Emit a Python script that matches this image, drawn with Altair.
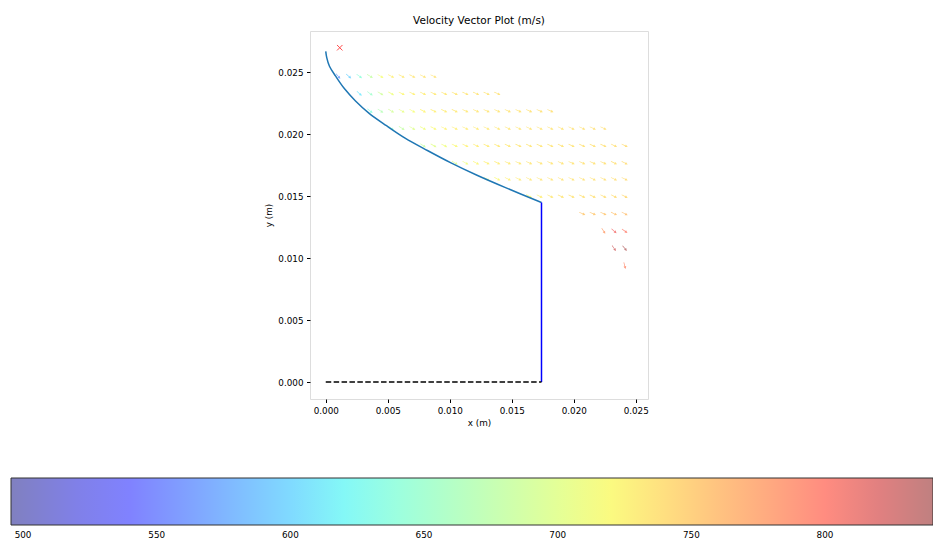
import altair as alt
import pandas as pd
import numpy as np

# ---------------- data ----------------
curve_x = [0.0000, 0.00008, 0.0003, 0.0008, 0.0015, 0.0024, 0.0035, 0.0049, 0.0064,
           0.0082, 0.0101, 0.0122, 0.0145, 0.0174]
curve_y = [0.0267, 0.0262, 0.0255, 0.0247, 0.0237, 0.0227, 0.0217, 0.0207, 0.0197,
           0.0187, 0.0177, 0.0167, 0.0157, 0.0145]

wall_x = [0.0174]
wall_top = [0.0145]
wall_bottom = [0.0]
base_x0 = [0.0]
base_x1 = [0.0174]
base_y = [0.0]

marker_x = [0.00113]
marker_y = [0.0270]

col_x = [0.00100, 0.00185, 0.00271, 0.00357, 0.00442, 0.00528, 0.00613, 0.00699,
         0.00785, 0.00870, 0.00956, 0.01041, 0.01127, 0.01213, 0.01298, 0.01384,
         0.01469, 0.01555, 0.01641, 0.01726, 0.01812, 0.01897, 0.01983, 0.02069,
         0.02154, 0.02240, 0.02325, 0.02411]
row_y = [0.0247, 0.0233, 0.0219, 0.0205, 0.0191, 0.0177, 0.0164, 0.0150,
         0.0136, 0.0122, 0.0108, 0.0094]
row_first_col = [0, 2, 3, 5, 8, 11, 14, 18, 23, 25, 26, 27]
row_speed = [
    [565, 598, 640, 680, 716, 727, 731, 733, 734, 735],
    [612, 652, 688, 710, 721, 726, 729, 731, 732, 733, 734, 735, 735, 736],
    [636, 668, 690, 705, 716, 723, 727, 729, 731, 732, 733, 734, 734, 735, 735, 736, 736, 737],
    [652, 680, 699, 711, 719, 724, 727, 729, 730, 731, 732, 733, 733, 734, 734, 735, 735, 736, 736, 737, 737],
    [682, 700, 712, 720, 725, 728, 730, 731, 732, 733, 733, 734, 734, 735, 735, 736, 736, 737, 738, 739],
    [696, 712, 721, 726, 729, 731, 732, 733, 734, 734, 735, 735, 736, 736, 737, 738, 740],
    [706, 720, 727, 730, 732, 733, 734, 735, 735, 736, 736, 737, 738, 740],
    [718, 728, 732, 734, 735, 736, 737, 738, 739, 742],
    [752, 752, 753, 755, 758],
    [778, 808, 798],
    [825, 838],
    [790],
]
row_angle = [
    [50, 42, 36, 32, 30, 28, 27, 27, 26, 26],
    [42, 36, 32, 30, 28, 27, 27, 26, 26, 26, 25, 25, 25, 25],
    [38, 34, 31, 29, 28, 27, 26, 26, 26, 25, 25, 25, 25, 25, 25, 25, 25, 25],
    [36, 32, 30, 28, 27, 26, 26, 25, 25, 25, 25, 25, 25, 25, 25, 25, 25, 25, 25, 26, 26],
    [33, 30, 28, 27, 26, 26, 25, 25, 25, 25, 25, 25, 25, 25, 25, 25, 25, 25, 26, 26],
    [31, 28, 27, 26, 26, 25, 25, 25, 25, 25, 25, 25, 25, 25, 25, 26, 27],
    [30, 28, 27, 26, 25, 25, 25, 25, 25, 25, 25, 26, 26, 27],
    [29, 27, 26, 25, 25, 25, 25, 26, 27, 28],
    [24, 24, 25, 26, 28],
    [58, 42, 35],
    [55, 50],
    [75],
]

speed_min = 495.5
speed_max = 840.4
colorbar_ticks = [500, 550, 600, 650, 700, 750, 800]
axis_ticks = [0.0, 0.005, 0.010, 0.015, 0.020, 0.025]

# ---------------- tables ----------------
rows = []
for y, first, sp, an in zip(row_y, row_first_col, row_speed, row_angle):
    for k, (s, a) in enumerate(zip(sp, an)):
        rows.append({"x": col_x[first + k], "y": y, "speed": s, "angle": a})
vec_df = pd.DataFrame(rows)

curve_df = pd.DataFrame({"x": curve_x, "y": curve_y, "order": list(range(len(curve_x)))})
wall_df = pd.DataFrame({"x": wall_x, "y": wall_top, "y2": wall_bottom})
base_df = pd.DataFrame({"x": base_x0, "x2": base_x1, "y": base_y})
marker_df = pd.DataFrame({"x": marker_x, "y": marker_y})

# jet colormap, blended 50% with white (alpha 0.5)
jet_r = ([0, 0.35, 0.66, 0.89, 1], [0, 0, 1, 1, 0.5])
jet_g = ([0, 0.125, 0.375, 0.64, 0.91, 1], [0, 0, 1, 1, 0, 0])
jet_b = ([0, 0.11, 0.34, 0.65, 1], [0.5, 1, 1, 0, 0])
stops = [0, 0.11, 0.125, 0.34, 0.35, 0.375, 0.64, 0.65, 0.66, 0.89, 0.91, 1]


def jet_hex(f):
    r = np.interp(f, *jet_r)
    g = np.interp(f, *jet_g)
    b = np.interp(f, *jet_b)
    c = [0.5 * v + 0.5 for v in (r, g, b)]
    return "#%02x%02x%02x" % tuple(int(round(v * 255)) for v in c)


color_domain = [speed_min + f * (speed_max - speed_min) for f in stops]
color_range = [jet_hex(f) for f in stops]

FONT = "DejaVu Sans"
xscale = alt.Scale(domain=[-0.00127, 0.02599], nice=False, zero=False)
yscale = alt.Scale(domain=[-0.00137, 0.02835], nice=False, zero=False)


def ax(title):
    return alt.Axis(title=title, values=axis_ticks, format=".3f", grid=False,
                    tickSize=3.5, tickColor="black", domain=False,
                    labelFontSize=8.8, labelFont=FONT, labelColor="black",
                    titleFont=FONT, titleFontSize=8.8, titleFontWeight="normal",
                    titleColor="black", labelPadding=3.5, titlePadding=4)


arrow_path = "M -1 -0.1 L 0.2 -0.1 L 0.2 -0.42 L 1 0 L 0.2 0.42 L 0.2 0.1 L -1 0.1 Z"

vectors = alt.Chart(vec_df).mark_point(
    shape=arrow_path, filled=True, size=46, opacity=1, strokeWidth=0
).encode(
    x=alt.X("x:Q", scale=xscale, axis=ax("x (m)")),
    y=alt.Y("y:Q", scale=yscale, axis=ax("y (m)")),
    angle=alt.Angle("angle:Q", scale=None),
    color=alt.Color(
        "speed:Q",
        scale=alt.Scale(domain=color_domain, range=color_range, interpolate="rgb"),
        legend=alt.Legend(
            orient="none", legendX=-299, legendY=447, direction="horizontal",
            gradientLength=922, gradientThickness=47, title=None,
            values=colorbar_ticks, format="d", labelFont=FONT, labelFontSize=8.8,
            labelColor="black", labelOffset=6, labelOverlap=False, padding=0,
            gradientStrokeColor="#333333", gradientStrokeWidth=1,
        ),
    ),
)

curve = alt.Chart(curve_df).mark_line(
    color="#1f77b4", strokeWidth=1.5, interpolate="catmull-rom"
).encode(x="x:Q", y="y:Q", order="order:Q")

wall = alt.Chart(wall_df).mark_rule(color="#0000ff", strokeWidth=1.5).encode(
    x="x:Q", y="y:Q", y2="y2:Q"
)

base = alt.Chart(base_df).mark_rule(color="black", strokeWidth=1.5, strokeDash=[5.5, 2.4]).encode(
    x="x:Q", x2="x2:Q", y="y:Q"
)

marker = alt.Chart(marker_df).mark_point(
    shape="M -1 -1 L 1 1 M -1 1 L 1 -1", filled=False, color="red", size=30, strokeWidth=1
).encode(x="x:Q", y="y:Q")

chart = alt.layer(vectors, curve, wall, base, marker).properties(
    width=338, height=368,
    title=alt.TitleParams("Velocity Vector Plot (m/s)", font=FONT, fontSize=10.5,
                          fontWeight="normal", color="black", anchor="middle", offset=5),
    autosize=alt.AutoSizeParams(type="none"),
    padding={"left": 310, "top": 31, "right": 285, "bottom": 140},
).configure_view(stroke="#222222", strokeWidth=1).configure(background="white")

chart.save("out.html", embed_options={"renderer": "svg", "actions": False})
